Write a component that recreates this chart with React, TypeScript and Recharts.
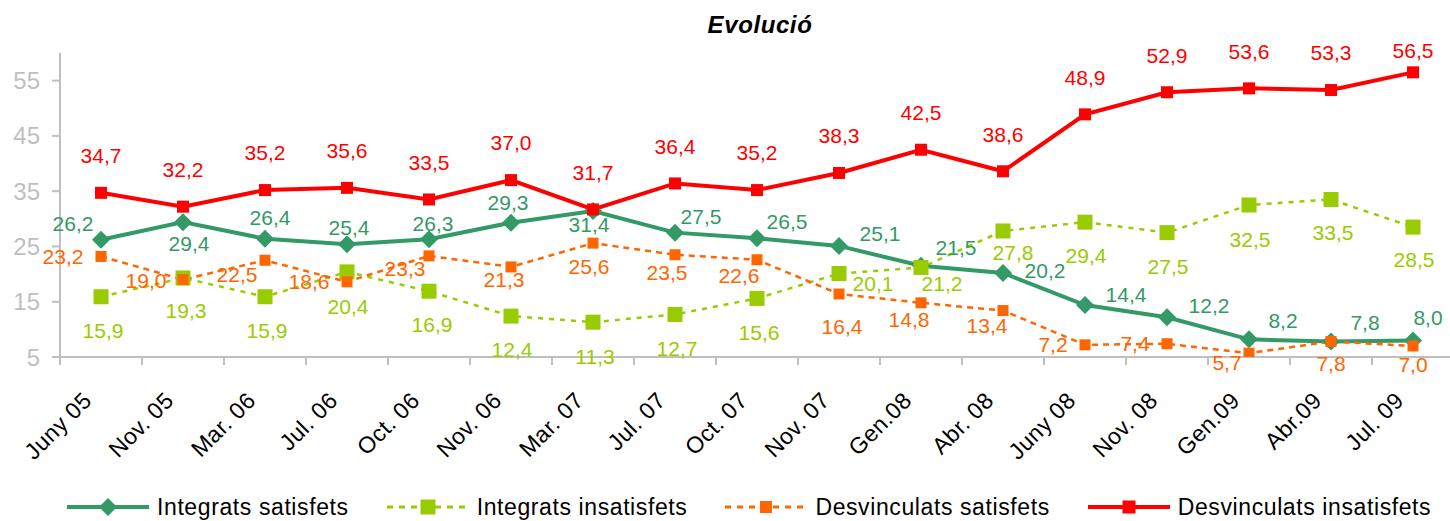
import { LineChart, Line, XAxis, YAxis, Legend, LabelList } from "recharts";

const categories = [
  "Juny 05", "Nov. 05", "Mar. 06", "Jul. 06", "Oct. 06", "Nov. 06", "Mar. 07", "Jul. 07", "Oct. 07",
  "Nov. 07", "Gen.08", "Abr. 08", "Juny 08", "Nov. 08", "Gen.09", "Abr.09", "Jul. 09",
];
const integratsSatisfets = [26.2, 29.4, 26.4, 25.4, 26.3, 29.3, 31.4, 27.5, 26.5, 25.1, 21.5, 20.2, 14.4, 12.2, 8.2, 7.8, 8.0];
const integratsInsatisfets = [15.9, 19.3, 15.9, 20.4, 16.9, 12.4, 11.3, 12.7, 15.6, 20.1, 21.2, 27.8, 29.4, 27.5, 32.5, 33.5, 28.5];
const desvinculatsSatisfets = [23.2, 19.0, 22.5, 18.6, 23.3, 21.3, 25.6, 23.5, 22.6, 16.4, 14.8, 13.4, 7.2, 7.4, 5.7, 7.8, 7.0];
const desvinculatsInsatisfets = [34.7, 32.2, 35.2, 35.6, 33.5, 37.0, 31.7, 36.4, 35.2, 38.3, 42.5, 38.6, 48.9, 52.9, 53.6, 53.3, 56.5];
const yTicks = [5, 15, 25, 35, 45, 55];

const chartData = categories.map((cat, i) => ({
  cat,
  is: integratsSatisfets[i],
  ii: integratsInsatisfets[i],
  ds: desvinculatsSatisfets[i],
  di: desvinculatsInsatisfets[i],
}));

// label nudges (dx, dy) like the manual placement in the original
const nudgeIS = [[-28, -16], [6, 22], [5, -21], [2, -17], [4, -16], [-3, -20], [-4, 14], [26, -16], [30, -17], [41, -12], [35, -18], [42, -2], [41, -10], [42, -12], [34, -19], [34, -19], [15, -23]];
const nudgeII = [[2, 34], [3, 33], [2, 34], [1, 35], [3, 33], [1, 34], [2, 34], [2, 34], [2, 34], [34, 10], [21, 16], [10, 22], [1, 34], [1, 34], [1, 35], [2, 33], [1, 33]];
const nudgeDS = [[-38, 0], [-37, 1], [-28, 14], [-38, 0], [-24, 13], [-7, 13], [-4, 24], [-8, 18], [-18, 16], [3, 33], [-12, 17], [-16, 15], [-32, 0], [-32, 0], [-22, 10], [0, 22], [0, 19]];
const nudgeDI = categories.map((_, i) => (i === categories.length - 1 ? [0, -22] : [0, -37]));

const FONT = '"Liberation Sans", Arial, sans-serif';
const GREEN = "#339966";
const LIME = "#99CC00";
const ORANGE = "#FF6600";
const RED = "#FF0000";
const AXIS = "#BFBFBF";

const CHART_W = 1460;
const PLOT_LEFT = 60;
const PLOT_RIGHT_MARGIN = 6;
const BAND = (CHART_W - PLOT_LEFT - PLOT_RIGHT_MARGIN) / categories.length;

const fmt = (v: number) => v.toFixed(1).replace(".", ",");

const makeLabel = (color: string, nudge: number[][]) => (props: any) => {
  const { x, y, value, index } = props;
  const [dx, dy] = nudge[index] || [0, 0];
  return (
    <text
      x={x + dx}
      y={y + dy}
      dy="0.35em"
      textAnchor="middle"
      fill={color}
      fontSize={21}
      fontFamily={FONT}
    >
      {fmt(value)}
    </text>
  );
};

const Diamond = (props: any) => {
  const { cx, cy, index } = props;
  const r = 9;
  return (
    <polygon
      key={index}
      points={`${cx},${cy - r} ${cx + r},${cy} ${cx},${cy + r} ${cx - r},${cy}`}
      fill={GREEN}
    />
  );
};

const squareDot = (color: string, size: number) => (props: any) => {
  const { cx, cy, index } = props;
  return <rect key={index} x={cx - size / 2} y={cy - size / 2} width={size} height={size} fill={color} />;
};

const XTick = (props: any) => {
  const { x, y, payload, index } = props;
  const half = BAND / 2;
  const ax = x - 8;
  const ay = y + 45;
  return (
    <g>
      <line x1={x - half} x2={x - half} y1={y} y2={y + 8} stroke={AXIS} strokeWidth={2} />
      {index === categories.length - 1 && (
        <line x1={x + half} x2={x + half} y1={y} y2={y + 8} stroke={AXIS} strokeWidth={2} />
      )}
      <text
        x={ax}
        y={ay}
        transform={`rotate(-45, ${ax}, ${ay})`}
        textAnchor="end"
        fill="#000"
        fontSize={23}
        letterSpacing={0.4}
        fontFamily={FONT}
      >
        {payload.value}
      </text>
    </g>
  );
};

const legendItems = [
  { name: "Integrats satisfets", color: GREEN, dash: undefined, width: 4, marker: "diamond", size: 18 },
  { name: "Integrats insatisfets", color: LIME, dash: "6 6", width: 3, marker: "square", size: 15 },
  { name: "Desvinculats satisfets", color: ORANGE, dash: "6 6", width: 3, marker: "square", size: 12 },
  { name: "Desvinculats insatisfets", color: RED, dash: undefined, width: 4, marker: "square", size: 13 },
];

const LegendContent = () => (
  <div
    style={{
      display: "flex",
      alignItems: "flex-end",
      height: 50,
      paddingLeft: 67,
      fontFamily: FONT,
      fontSize: 23,
      letterSpacing: 0.6,
      color: "#000",
    }}
  >
    {legendItems.map((it) => (
      <div key={it.name} style={{ display: "flex", alignItems: "center", height: 28, marginRight: 38 }}>
        <svg width={82} height={24} style={{ marginRight: 8 }}>
          <line x1={0} x2={82} y1={12} y2={12} stroke={it.color} strokeWidth={it.width} strokeDasharray={it.dash} />
          {it.marker === "diamond" ? (
            <polygon points={`41,3 50,12 41,21 32,12`} fill={it.color} />
          ) : (
            <rect x={41 - it.size / 2} y={12 - it.size / 2} width={it.size} height={it.size} fill={it.color} />
          )}
        </svg>
        <span style={{ lineHeight: "28px", whiteSpace: "nowrap" }}>{it.name}</span>
      </div>
    ))}
  </div>
);

export default function App() {
  return (
    <div
      style={{
        position: "absolute",
        left: 0,
        top: 0,
        width: 1450,
        height: 521,
        overflow: "hidden",
        background: "#fff",
      }}
    >
      <div
        style={{
          position: "absolute",
          top: 13,
          left: 0,
          width: 1520,
          textAlign: "center",
          fontFamily: FONT,
          fontSize: 24,
          lineHeight: "24px",
          fontWeight: "bold",
          fontStyle: "italic",
          letterSpacing: 0.6,
        }}
      >
        Evolució
      </div>
      <LineChart
        width={CHART_W}
        height={521}
        data={chartData}
        margin={{ top: 53, right: PLOT_RIGHT_MARGIN, left: 0, bottom: 0 }}
      >
        <XAxis
          dataKey="cat"
          interval={0}
          height={114}
          padding={{ left: BAND / 2, right: BAND / 2 }}
          axisLine={{ stroke: AXIS, strokeWidth: 2 }}
          tickLine={false}
          tickSize={0}
          tickMargin={0}
          tick={<XTick />}
        />
        <YAxis
          domain={[5, 60]}
          ticks={yTicks}
          width={PLOT_LEFT}
          axisLine={{ stroke: AXIS, strokeWidth: 2 }}
          tickLine={{ stroke: AXIS, strokeWidth: 2 }}
          tickSize={8}
          tickMargin={12}
          tick={{ fill: AXIS, fontSize: 24, fontFamily: FONT }}
          allowDataOverflow
        />
        <Legend
          verticalAlign="bottom"
          height={50}
          content={<LegendContent />}
          wrapperStyle={{ left: 0, bottom: 0, width: CHART_W, height: 50 }}
        />
        <Line
          dataKey="is"
          name="Integrats satisfets"
          stroke={GREEN}
          strokeWidth={4}
          dot={Diamond}
          activeDot={false}
          isAnimationActive={false}
        >
          <LabelList dataKey="is" content={makeLabel(GREEN, nudgeIS)} />
        </Line>
        <Line
          dataKey="ii"
          name="Integrats insatisfets"
          stroke={LIME}
          strokeWidth={2.5}
          strokeDasharray="5 6"
          dot={squareDot(LIME, 15)}
          activeDot={false}
          isAnimationActive={false}
        >
          <LabelList dataKey="ii" content={makeLabel(LIME, nudgeII)} />
        </Line>
        <Line
          dataKey="ds"
          name="Desvinculats satisfets"
          stroke={ORANGE}
          strokeWidth={2.5}
          strokeDasharray="6 5"
          dot={squareDot(ORANGE, 11)}
          activeDot={false}
          isAnimationActive={false}
        >
          <LabelList dataKey="ds" content={makeLabel(ORANGE, nudgeDS)} />
        </Line>
        <Line
          dataKey="di"
          name="Desvinculats insatisfets"
          stroke={RED}
          strokeWidth={4}
          dot={squareDot(RED, 12)}
          activeDot={false}
          isAnimationActive={false}
        >
          <LabelList dataKey="di" content={makeLabel(RED, nudgeDI)} />
        </Line>
      </LineChart>
    </div>
  );
}
